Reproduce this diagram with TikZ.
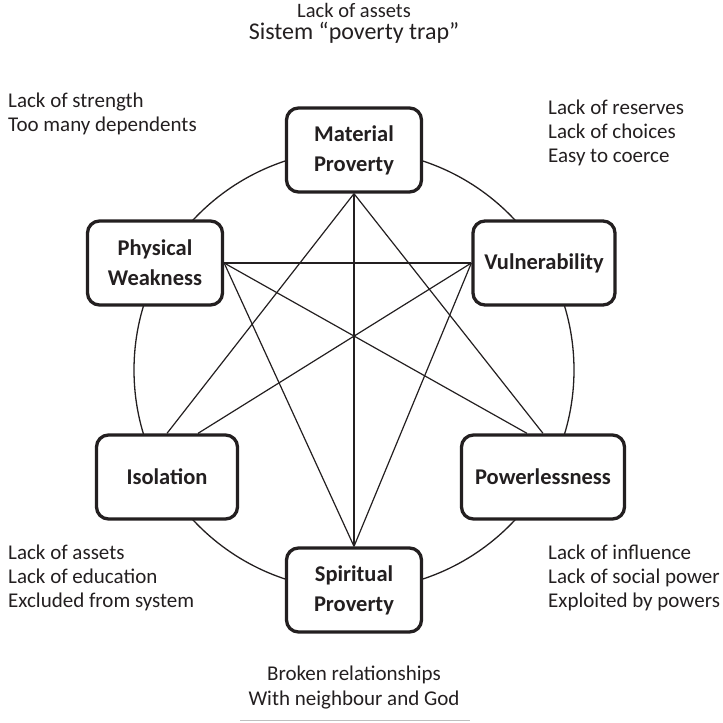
\documentclass[tikz,border=0pt]{standalone}
\usepackage{fontspec}
\setmainfont{Carlito}
\usetikzlibrary{calc}
\definecolor{ink}{HTML}{231F20}
\tikzset{
  box/.style={draw=ink, line width=3.3pt, rounded corners=12pt, fill=white, align=center,
    minimum height=84pt, text=ink, font=\fontsize{22.5}{30}\selectfont\bfseries, inner sep=2pt},
  note/.style={align=left, anchor=north west, text=ink, font=\fontsize{21}{24}\selectfont, inner sep=0pt},
  link/.style={draw=ink, line width=1.2pt},
}
\begin{document}
\begin{tikzpicture}[x=1pt,y=-1pt]
\useasboundingbox (0,0) rectangle (723,723);
\coordinate (c) at (354,370);
\draw[ink, line width=1.3pt] (c) circle[radius=220];

\node[box, minimum width=135pt] (m) at (354,150) {Material\\Proverty};
\node[box, minimum width=135pt] (ph) at (155,263) {Physical\\Weakness};
\node[box, minimum width=142pt] (v) at (544,263) {Vulnerability};
\node[box, minimum width=141pt] (is) at (167,477) {Isolation};
\node[box, minimum width=163pt] (pw) at (543,477) {Powerlessness};
\node[box, minimum width=135pt] (s) at (354,590) {Spiritual\\Proverty};

\draw[link] (m.south) -- (is.north);
\draw[link] (m.south) -- (pw.north);
\draw[link] (m.south) -- (s.north);
\draw[link] (ph.east) -- (v.west);
\draw[link] (ph.east) -- ($(pw.north)+(-16,0)$);
\draw[link] (ph.east) -- (s.north);
\draw[link] (v.west) -- ($(is.north)+(31,0)$);
\draw[link] (v.west) -- (s.north);

\node[text=ink, font=\fontsize{20.5}{24}\selectfont, inner sep=0pt] (t1) at (354,10) {Lack of assets};
\node[text=ink, font=\fontsize{24}{28}\selectfont, inner sep=0pt] (t2) at (354,33) {Sistem “poverty trap”};

\node[note] (n1) at (8,93) {Lack of strength\\Too many dependents};
\node[note] (n2) at (548,100) {Lack of reserves\\Lack of choices\\Easy to coerce};
\node[note] (n3) at (8,545) {Lack of assets\\Lack of education\\Excluded from system};
\node[note] (n4) at (548,545) {Lack of influence\\Lack of social power\\Exploited by powers};
\node[align=center, text=ink, font=\fontsize{21}{25}\selectfont, inner sep=0pt] (n5) at (354,688) {Broken relationships\\With neighbour and God};
\coordinate (g1) at (240,720.5);
\coordinate (g2) at (470,720.5);
\draw[gray!50, line width=1pt] (g1) -- (g2);
\end{tikzpicture}
\end{document}
